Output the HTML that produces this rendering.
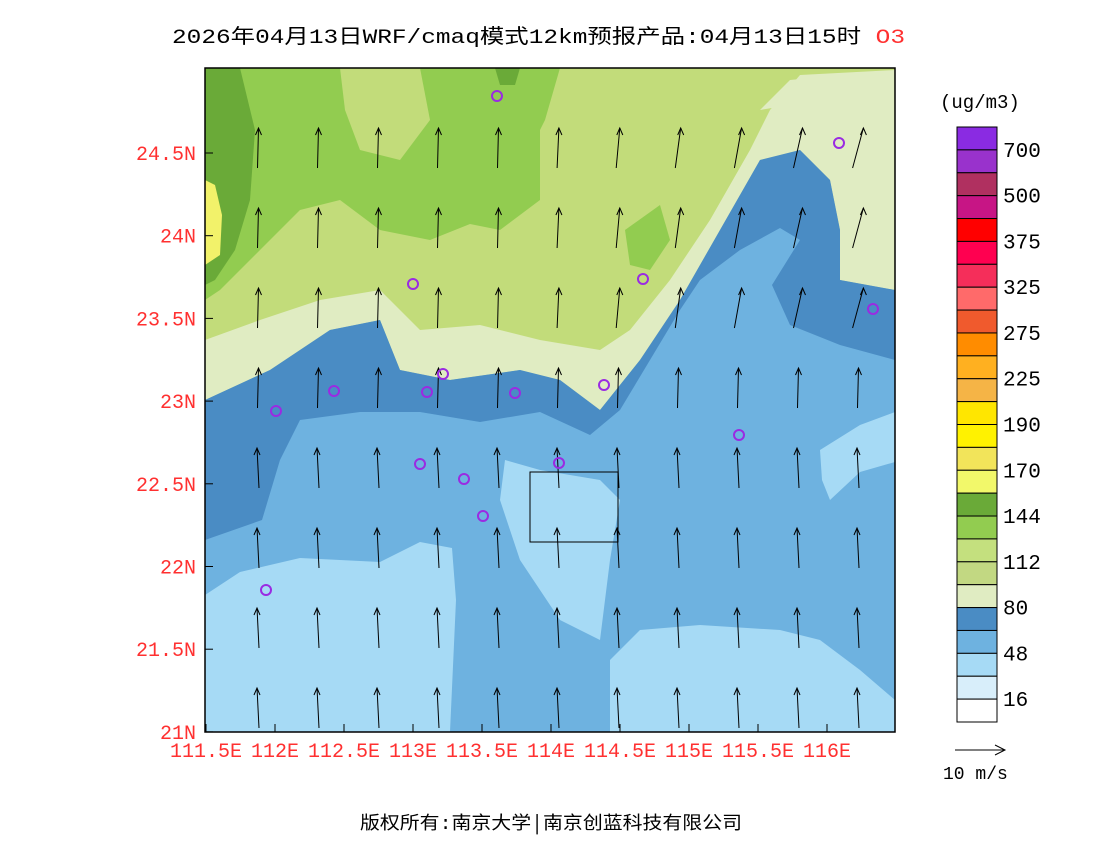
<!DOCTYPE html>
<html><head><meta charset="utf-8"><style>
body{margin:0;background:#fff;width:1100px;height:850px;overflow:hidden}
svg text{font-family:"Liberation Mono","Noto Sans CJK SC",monospace}
</style></head><body>
<svg id="s" width="1100" height="850" xmlns="http://www.w3.org/2000/svg">
<text x="172" y="43" font-size="20" textLength="733" lengthAdjust="spacingAndGlyphs" fill="#000">2026年04月13日WRF/cmaq模式12km预报产品:04月13日15时 <tspan fill="#ff3030">O3</tspan></text>
<defs><clipPath id="c"><rect x="205" y="68" width="690" height="664"/></clipPath></defs>
<g clip-path="url(#c)">
<rect x="205" y="68" width="690" height="664" fill="#6eb2e0"/>
<polygon fill="#c2dc7a" points="205,68 895,68 895,290 840,280 840,230 830,180 800,150 760,160 720,230 680,300 640,360 600,410 560,380 520,370 450,380 400,370 380,320 330,330 270,370 205,400"/>
<polygon fill="#e0ecc2" points="205,340 260,320 320,300 380,290 420,330 480,325 540,340 600,350 630,330 670,280 710,220 750,150 770,110 800,75 895,70 895,290 840,280 840,230 830,180 800,150 760,160 720,230 680,300 640,360 600,410 560,380 520,370 450,380 400,370 380,320 330,330 270,370 205,400"/>
<polygon fill="#e0ecc2" points="760,110 790,80 840,75 895,80 895,140 860,120 820,100"/>
<polygon fill="#92cc50" points="205,68 560,68 545,120 520,170 480,220 430,240 380,230 340,200 300,210 260,250 220,290 205,300"/>
<polygon fill="#92cc50" points="450,120 500,100 540,130 540,200 500,230 450,220"/>
<polygon fill="#92cc50" points="625,230 660,205 670,240 650,270 630,265"/>
<polygon fill="#c2dc7a" points="340,68 420,68 430,120 400,160 360,150 345,110"/>
<polygon fill="#6aaa38" points="205,68 240,68 255,130 250,200 235,250 215,280 205,285"/>
<polygon fill="#6aaa38" points="495,68 520,68 515,85 500,85"/>
<polygon fill="#f2f26a" points="205,180 215,185 222,215 220,255 205,265"/>
<polygon fill="#4a8cc4" points="205,400 270,370 330,330 380,320 400,370 450,380 520,370 560,380 600,410 640,360 680,300 720,230 760,160 800,150 830,180 840,230 840,280 895,290 895,360 840,345 790,325 772,285 800,240 780,228 740,250 700,280 680,310 650,360 620,410 590,435 540,412 480,422 420,412 360,412 300,420 280,460 262,520 205,540"/>
<polygon fill="#a6daf5" points="205,595 240,572 300,558 380,562 420,542 452,548 456,600 450,732 205,732"/>
<polygon fill="#a6daf5" points="505,460 540,470 600,480 620,500 610,560 600,640 560,620 520,560 500,500"/>
<polygon fill="#a6daf5" points="610,732 610,660 640,630 700,625 780,630 820,640 860,670 895,700 895,732"/>
<polygon fill="#a6daf5" points="820,450 860,425 895,412 895,462 860,472 830,500 822,480"/>
<rect x="530" y="472" width="88" height="70" fill="none" stroke="#000" stroke-width="1"/>
<g id="arr" stroke="#000" fill="none" stroke-width="1"></g>
<g id="cir" stroke="#9a2be2" fill="none" stroke-width="2"></g>
</g>
<rect x="205" y="68" width="690" height="664" fill="none" stroke="#000" stroke-width="1.5"/>
<g id="ax" font-size="20" fill="#ff3030"></g>
<g id="cb"></g>
<text x="940" y="108" font-size="19">(ug/m3)</text>
<line x1="955" y1="750" x2="1005" y2="750" stroke="#000"/>
<polyline points="995,745 1005,750 995,755" fill="none" stroke="#000"/>
<text x="943" y="779" font-size="18">10 m/s</text>
<text x="360" y="829" font-size="18" textLength="382" lengthAdjust="spacingAndGlyphs" font-family="Noto Sans CJK SC,sans-serif">版权所有:南京大学│南京创蓝科技有限公司</text>
</svg>
<script>
var NS="http://www.w3.org/2000/svg";
function el(p,t,a,txt){var e=document.createElementNS(NS,t);for(var k in a)e.setAttribute(k,a[k]);if(txt)e.textContent=txt;document.getElementById(p).appendChild(e);}
var xs=[258,318,378,438,498,558,618,678,738,798,858],ys=[148,228,308,388,468,548,628,708];
ys.forEach(function(y,j){xs.forEach(function(x,i){var dx=(j<3&&i>4)?(i-4)*1.8:(j>3?-2:1);var L=40;var x1=x-dx/2,y1=y+L/2,x2=x+dx/2,y2=y-L/2;
el("arr","line",{x1:x1,y1:y1,x2:x2,y2:y2});el("arr","polyline",{points:(x2-3)+","+(y2+7)+" "+x2+","+y2+" "+(x2+3)+","+(y2+7)});});});
[[497,96],[839,143],[413,284],[643,279],[873,309],[443,374],[334,391],[427,392],[515,393],[604,385],[276,411],[739,435],[420,464],[559,463],[464,479],[483,516],[266,590]].forEach(function(p){el("cir","circle",{cx:p[0],cy:p[1],r:5});});
var lat=["24.5N","24N","23.5N","23N","22.5N","22N","21.5N","21N"];
lat.forEach(function(t,i){var y=153+i*82.7;el("ax","text",{x:196,y:y+7,"text-anchor":"end"},t);el("ax","line",{x1:205,y1:y,x2:213,y2:y,stroke:"#000"});});
var lon=["111.5E","112E","112.5E","113E","113.5E","114E","114.5E","115E","115.5E","116E"];
lon.forEach(function(t,i){var x=206+i*69;el("ax","text",{x:x,y:757,"text-anchor":"middle"},t);el("ax","line",{x1:x,y1:732,x2:x,y2:724,stroke:"#000"});});
var cols=["#8a2be2","#9932cc","#b03060","#c71585","#ff0000","#ff0050","#f52e5a","#ff6a6a","#f05a2d","#ff8c00","#ffb020","#f5b446","#ffe600","#fff200","#f2e45a","#f2f86a","#6aaa38","#92cc50","#c4e07e","#c2d882","#e0ecc2","#4a8cc4","#6eb2e0","#a6daf5","#d8eefa","#ffffff"];
var h=595/26;cols.forEach(function(c,i){el("cb","rect",{x:957,y:127+i*h,width:40,height:h,fill:c,stroke:"#000","stroke-width":1});});
["700","500","375","325","275","225","190","170","144","112","80","48","16"].forEach(function(t,i){el("cb","text",{x:1003,y:127+(2*i+1)*h+7,"font-size":21},t);});
</script>
</body></html>
